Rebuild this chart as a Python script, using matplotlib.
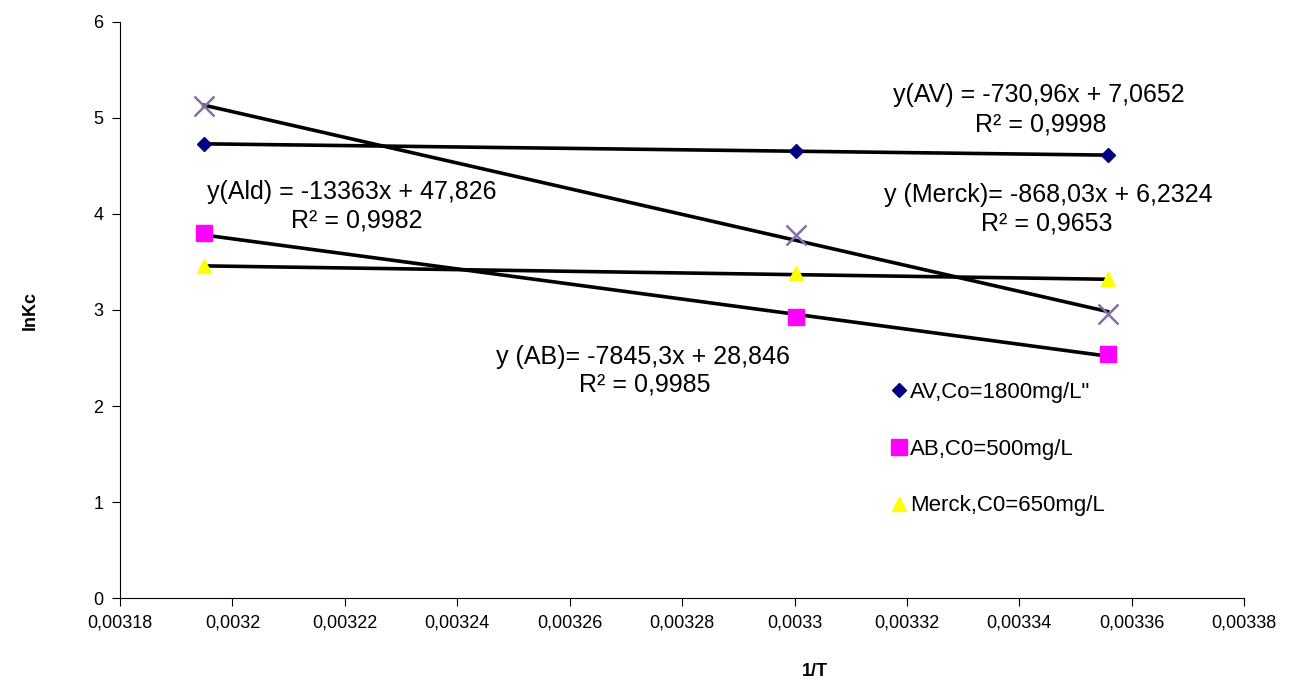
import matplotlib.pyplot as plt
from matplotlib.ticker import MultipleLocator, FuncFormatter
import numpy as np

plt.rcParams['font.family'] = ['Liberation Sans', 'DejaVu Sans']

# 1/T values (T = 313, 303, 298 K)
inv_t = [0.0031949, 0.0033003, 0.0033557]

av = [4.73, 4.65, 4.61]
ab = [3.80, 2.93, 2.54]
merck = [3.46, 3.38, 3.32]
ald = [5.12, 3.78, 2.96]

# trendline coefficients (slope, intercept) as printed on the chart
fit_av = (-730.96, 7.0652)
fit_ab = (-7845.3, 28.846)
fit_merck = (-868.03, 6.2324)
fit_ald = (-13363, 47.826)

fig = plt.figure(figsize=(12.98, 6.82), dpi=100)
ax = fig.add_axes([0.0925, 0.123, 0.866, 0.845])

xs = np.array([min(inv_t), max(inv_t)])
for k, b in [fit_av, fit_ab, fit_merck, fit_ald]:
    ax.plot(xs, k * xs + b, color='black', lw=2.6, zorder=2)

ax.plot(inv_t, av, 'D', color='#000080', ms=7.5, ls='none', zorder=3,
        label='AV,Co=1800mg/L"')
ax.plot(inv_t, ab, 's', color='#FF00FF', ms=11, ls='none', zorder=3,
        label='AB,C0=500mg/L')
ax.plot(inv_t, merck, '^', color='#FFFF00', ms=10, ls='none', zorder=3,
        label='Merck,C0=650mg/L')
ax.plot(inv_t, ald, 'x', color='#8470A8', ms=14, mew=1.8, ls='none', zorder=3)

ax.set_xlim(0.00318, 0.00338)
ax.set_ylim(0, 6)
ax.xaxis.set_major_locator(MultipleLocator(0.00002))
ax.yaxis.set_major_locator(MultipleLocator(1))
ax.xaxis.set_major_formatter(FuncFormatter(lambda v, p: ('%g' % round(v, 6)).replace('.', ',')))
ax.yaxis.set_major_formatter(FuncFormatter(lambda v, p: '%d' % v))
ax.tick_params(direction='out', length=6, labelsize=13, pad=6)
for s in ['top', 'right']:
    ax.spines[s].set_visible(False)

txt = dict(fontsize=18, ha='center', va='center')
ax.text(0.0033434, 5.24, 'y(AV) = -730,96x + 7,0652', **txt)
ax.text(0.0033439, 4.93, 'R² = 0,9998', **txt)
ax.text(0.0032213, 4.23, 'y(Ald) = -13363x + 47,826', **txt)
ax.text(0.0032222, 3.93, 'R² = 0,9982', **txt)
ax.text(0.0033451, 4.20, 'y (Merck)= -868,03x + 6,2324', **txt)
ax.text(0.0033448, 3.90, 'R² = 0,9653', **txt)
ax.text(0.0032730, 2.51, 'y (AB)= -7845,3x + 28,846', **txt)
ax.text(0.0032733, 2.22, 'R² = 0,9985', **txt)

ax.legend(loc='upper left', bbox_to_anchor=(0.676, 0.39), frameon=False,
          fontsize=16, labelspacing=1.6, handletextpad=0.05, handlelength=0.9,
          borderaxespad=0)

fig.text(0.023, 0.545, 'lnKc', rotation=90, fontsize=13, fontweight='bold',
         ha='center', va='center')
fig.text(0.628, 0.015, '1/T', fontsize=13, fontweight='bold', ha='center', va='center')

fig.savefig('out.png', dpi=100)
